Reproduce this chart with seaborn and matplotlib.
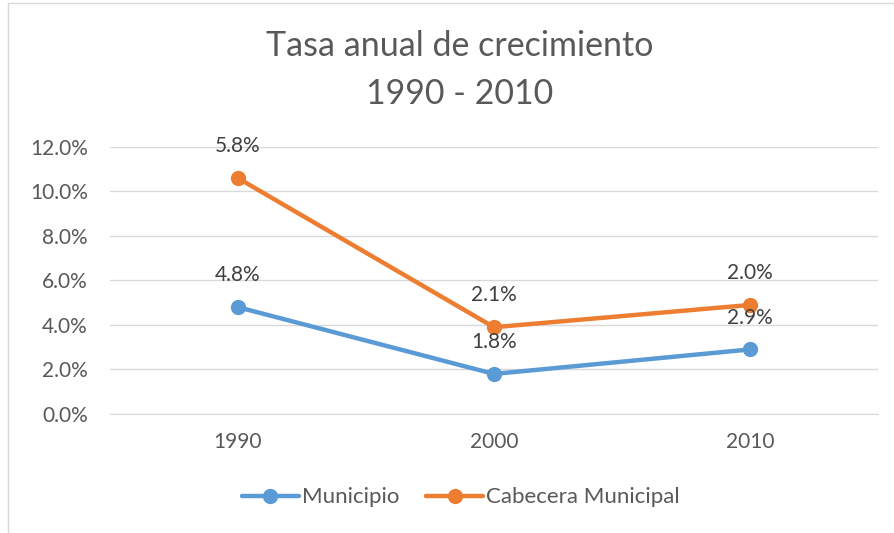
import numpy as np
import pandas as pd
import matplotlib
matplotlib.use("Agg")
import matplotlib.pyplot as plt
from matplotlib.lines import Line2D
import seaborn as sns

# Data (Excel stacked line chart: second series stacked on first)
years = ["1990", "2000", "2010"]
municipio = [0.048, 0.018, 0.029]
cabecera = [0.058, 0.021, 0.020]
series_names = ["Municipio", "Cabecera Municipal"]
colors = ["#5B9BD5", "#ED7D31"]
yticks = [0.0, 0.02, 0.04, 0.06, 0.08, 0.10, 0.12]

sns.set_style("white")
plt.rcParams["font.family"] = ["Lato", "DejaVu Sans"]

stacked = np.array(municipio) + np.array(cabecera)
df = pd.DataFrame({
    "year": years * 2,
    "pos": list(range(len(years))) * 2,
    "value": municipio + cabecera,
    "plot_y": list(municipio) + list(stacked),
    "serie": [series_names[0]] * 3 + [series_names[1]] * 3,
})

fig = plt.figure(figsize=(8.94, 5.33), dpi=100)
ax = fig.add_axes([0.123, 0.2233, 0.859, 0.5009])

sns.lineplot(data=df, x="pos", y="plot_y", hue="serie", palette=colors,
             marker="o", markersize=11, markeredgewidth=0, linewidth=3.2,
             legend=False, ax=ax)

for _, r in df.iterrows():
    ax.annotate(f"{r['value'] * 100:.1f}%", (r["pos"], r["plot_y"]),
                xytext=(0, 23), textcoords="offset points", ha="center",
                va="center", fontsize=15, color="#404040")

ax.set_xlim(-0.5, 2.5)
ax.set_ylim(0, 0.12)
ax.set_yticks(yticks)
ax.set_yticklabels([f"{t * 100:.1f}%" for t in yticks])
ax.set_xticks(range(len(years)))
ax.set_xticklabels(years)
ax.tick_params(axis="both", labelsize=15, colors="#595959", length=0)
ax.tick_params(axis="y", pad=16)
ax.tick_params(axis="x", pad=13)
ax.grid(axis="y", color="#d9d9d9", linewidth=1)
ax.set_axisbelow(True)
ax.set_xlabel("")
ax.set_ylabel("")
for s in ["top", "right", "left"]:
    ax.spines[s].set_visible(False)
ax.spines["bottom"].set_color("#d9d9d9")

fig.text(0.514, 0.913, "Tasa anual de crecimiento", ha="center", va="center",
         fontsize=24.5, color="#595959")
fig.text(0.514, 0.824, "1990 - 2010", ha="center", va="center",
         fontsize=24.5, color="#595959")

handles = [Line2D([0], [0], color=c, marker="o", markersize=11, linewidth=3.2,
                  markeredgewidth=0) for c in colors]
fig.legend(handles, series_names, loc="center", bbox_to_anchor=(0.515, 0.067),
           ncol=2, frameon=False, fontsize=16, labelcolor="#595959",
           handlelength=2.6, handletextpad=0.1, columnspacing=1.2)

# chart border
fig.add_artist(Line2D([0.009, 0.009], [0, 0.995], color="#d9d9d9", linewidth=1))
fig.add_artist(Line2D([0.009, 1.0], [0.995, 0.995], color="#d9d9d9", linewidth=1))

fig.savefig("out.png", dpi=100)
